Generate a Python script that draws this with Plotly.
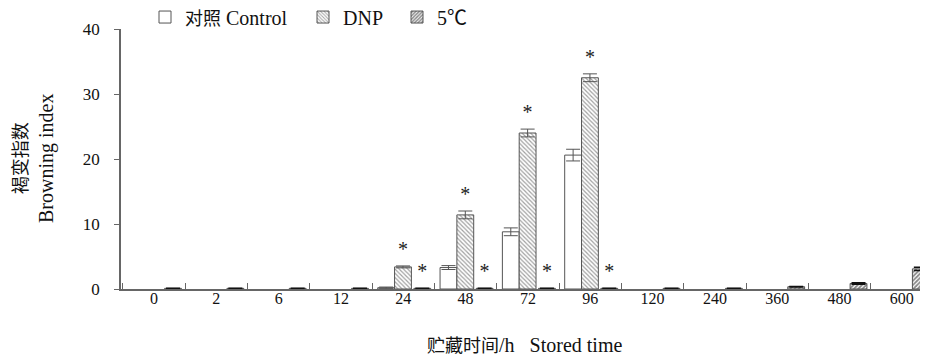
import plotly.graph_objects as go

categories = ["0", "2", "6", "12", "24", "48", "72", "96", "120", "240", "360", "480", "600"]
control = [0, 0, 0, 0, 0.2, 3.3, 8.8, 20.6, 0, 0, 0, 0, 0]
control_err = [0, 0, 0, 0, 0.1, 0.3, 0.6, 0.9, 0, 0, 0, 0, 0]
dnp = [0, 0, 0, 0, 3.4, 11.4, 24.0, 32.5, 0, 0, 0, 0, 0]
dnp_err = [0, 0, 0, 0, 0.15, 0.6, 0.6, 0.6, 0, 0, 0, 0, 0]
cold = [0.1, 0.1, 0.1, 0.1, 0.1, 0.1, 0.1, 0.1, 0.1, 0.1, 0.35, 0.85, 3.1]
cold_err = [0, 0, 0, 0, 0, 0, 0, 0, 0, 0, 0.05, 0.1, 0.25]
star_dnp = [False, False, False, False, True, True, True, True, False, False, False, False, False]
star_cold = [False, False, False, False, True, True, True, True, False, False, False, False, False]

FONT = "Liberation Serif, Times New Roman, Noto Sans CJK SC"
idx = list(range(len(categories)))
W = 0.27
offs = [-0.41, -0.14, 0.17]


def shown(vals):
    # zero-height bars are not drawn (no outline line at the baseline)
    return [v if v != 0 else None for v in vals]


def cjk(s, size):
    return f'<span style="font-size:{size}px">{s}</span>'


fig = go.Figure()
fig.add_trace(go.Bar(
    x=idx, y=shown(control), name=cjk("对照", 18) + " Control", width=W, offset=offs[0], legend="legend",
    marker=dict(color="white", line=dict(color="#555", width=1)),
    error_y=dict(type="data", array=control_err, color="#555", thickness=1, width=7),
))
fig.add_trace(go.Bar(
    x=idx, y=shown(dnp), name="DNP", width=W, offset=offs[1], legend="legend2",
    marker=dict(color="white", line=dict(color="#555", width=1),
                pattern=dict(shape="\\", fgcolor="#444", bgcolor="white", size=3, solidity=0.4)),
    error_y=dict(type="data", array=dnp_err, color="#555", thickness=1, width=7),
))
fig.add_trace(go.Bar(
    x=idx, y=cold, name="5℃", width=W, offset=offs[2], legend="legend3",
    marker=dict(color="white", line=dict(color="#555", width=1),
                pattern=dict(shape="/", fgcolor="#111", bgcolor="white", size=3, solidity=0.6)),
    error_y=dict(type="data", array=cold_err, color="#111", thickness=1.5, width=7),
))

# significance asterisks
sx, sy = [], []
for i in idx:
    if star_dnp[i]:
        sx.append(i + offs[1] + W / 2)
        sy.append(dnp[i] + dnp_err[i] + 0.8)
    if star_cold[i]:
        sx.append(i + offs[2] + W / 2)
        sy.append(cold[i] + cold_err[i] + 0.8)
fig.add_trace(go.Scatter(
    x=sx, y=sy, mode="text", text=["*"] * len(sx), textposition="top center",
    textfont=dict(family=FONT, size=20, color="#222"), showlegend=False, hoverinfo="skip",
))

# page body has an 8px margin, so the figure is 8px smaller and offset
ML = 113
PW = 920 - ML


def lx(px):
    return (px - 121) / PW


leg_common = dict(orientation="h", y=1.121, xanchor="left", yanchor="top",
                  font=dict(family=FONT, size=20, color="#111"), bgcolor="rgba(0,0,0,0)")
fig.update_layout(
    width=920, height=350,
    margin=dict(l=ML, r=0, t=21, b=69, autoexpand=False),
    paper_bgcolor="white", plot_bgcolor="white",
    font=dict(family=FONT, size=16, color="#111"),
    showlegend=True,
    legend=dict(x=lx(145), **leg_common),
    legend2=dict(x=lx(303), **leg_common),
    legend3=dict(x=lx(397), **leg_common),
    barmode="overlay",
    annotations=[
        dict(text=cjk("褐变指数", 18) + "<br>Browning index", textangle=-90, xref="paper", yref="paper",
             x=0, y=0.5, xshift=-87, xanchor="center", yanchor="middle", showarrow=False,
             font=dict(family=FONT, size=20, color="#111")),
        dict(text=cjk("贮藏时间", 18) + "/h   Stored time", xref="paper", yref="paper",
             x=0.5, y=0, yshift=-56, xanchor="center", yanchor="middle", showarrow=False,
             font=dict(family=FONT, size=20, color="#111")),
    ],
)
fig.update_xaxes(
    range=[-0.53, 12.42], tickmode="array", tickvals=idx, ticktext=categories,
    ticks="", showline=True, linecolor="#666", linewidth=1.5, showgrid=False, zeroline=False,
    minor=dict(tickmode="linear", tick0=0.5, dtick=1, ticks="inside", ticklen=6, tickcolor="#666", showgrid=False),
    tickfont=dict(family=FONT, size=16), automargin=False, ticklabelstandoff=-6,
)
fig.update_yaxes(
    range=[0, 40], tickvals=[0, 10, 20, 30, 40], ticks="outside", ticklen=5, tickcolor="#666",
    showline=True, linecolor="#666", linewidth=1.5, showgrid=False, zeroline=False,
    tickfont=dict(family=FONT, size=17), automargin=False, ticklabelstandoff=11,
)

fig.write_html("out.html")
